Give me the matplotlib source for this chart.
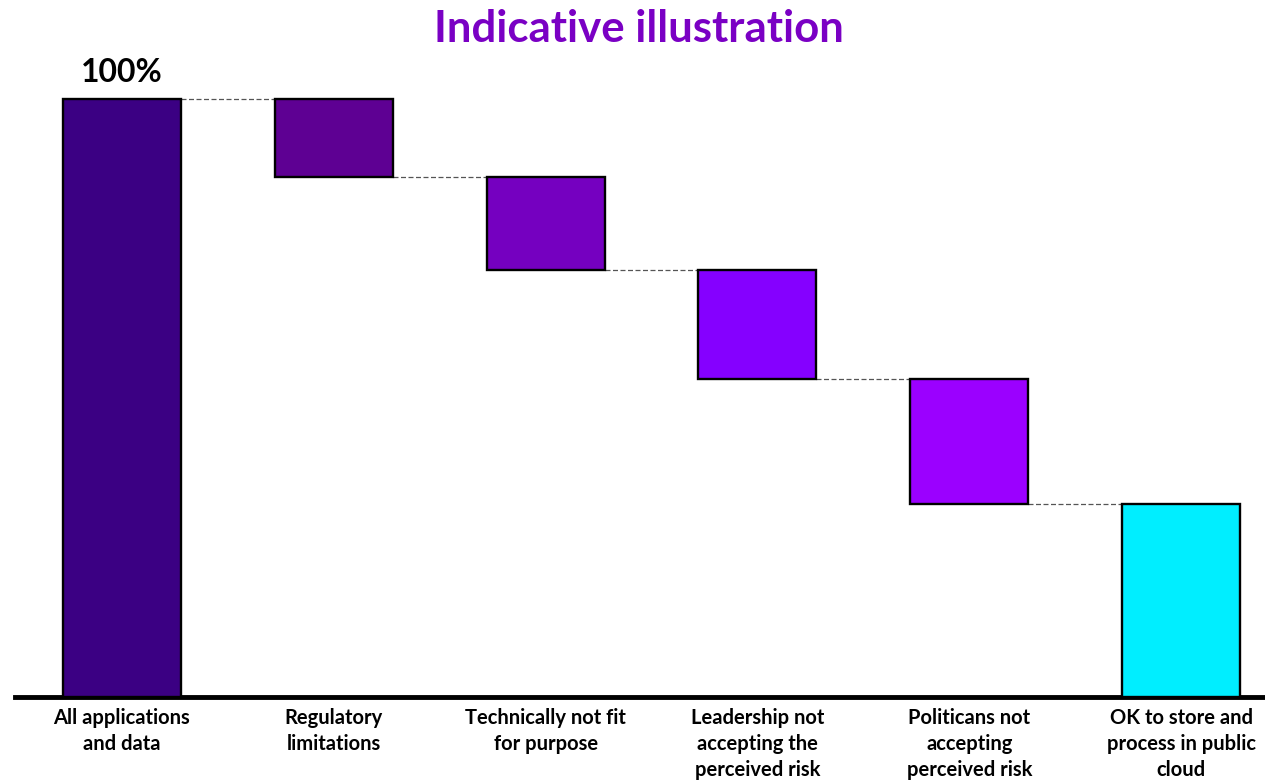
import matplotlib
matplotlib.use("Agg")
import matplotlib.pyplot as plt

# data
categories = ["All applications\nand data", "Regulatory\nlimitations", "Technically not fit\nfor purpose",
              "Leadership not\naccepting the\nperceived risk", "Politicans not\naccepting\nperceived risk",
              "OK to store and\nprocess in public\ncloud"]
steps = [100, -13.0, -15.6, -18.2, -20.9]
final_value = 32.3
colors = ["#3B0083", "#5E0093", "#7500C0", "#8500FF", "#9B00FF", "#00EEFF"]

plt.rcParams["font.family"] = ["Lato", "DejaVu Sans"]

fig = plt.figure(figsize=(12.65, 7.81), dpi=100)
ax = fig.add_axes([15 / 1265, 84 / 781, 1 - 15 / 1265, (697 - 60) / 781])

width = 0.557
bottoms, heights = [], []
level = 0
for s in steps:
    if s > 0:
        bottoms.append(0)
        heights.append(s)
        level = s
    else:
        bottoms.append(level + s)
        heights.append(-s)
        level = level + s
bottoms.append(0)
heights.append(final_value)

x = list(range(len(categories)))
ax.bar(x, heights, bottom=bottoms, width=width, color=colors, edgecolor="black", linewidth=1.7, zorder=3)

# connectors
for i in range(len(x) - 1):
    if i == 0:
        y = bottoms[0] + heights[0]
    else:
        y = bottoms[i]
    ax.plot([x[i] + width / 2, x[i + 1] - width / 2], [y, y], color="#555555", linestyle=(0, (4, 2)),
            linewidth=0.9, zorder=2)

ax.text(x[0], heights[0] + 2, "100%", ha="center", va="bottom", fontsize=23, fontweight="bold")

ax.set_xlim(-0.505, 5.396)
ax.set_ylim(0, 106.5)
ax.set_xticks(x)
ax.set_xticklabels(categories, fontsize=14.5, fontweight="bold", linespacing=1.38)
ax.tick_params(axis="x", length=0, pad=8)
ax.set_yticks([])
for sp in ["top", "right", "left"]:
    ax.spines[sp].set_visible(False)
ax.spines["bottom"].set_linewidth(3.5)

fig.text(0.505, 1 - 29 / 781, "Indicative illustration", ha="center", va="center", fontsize=31.5,
         fontweight="bold", color="#7A00C4")

fig.savefig("out.png", dpi=100)
